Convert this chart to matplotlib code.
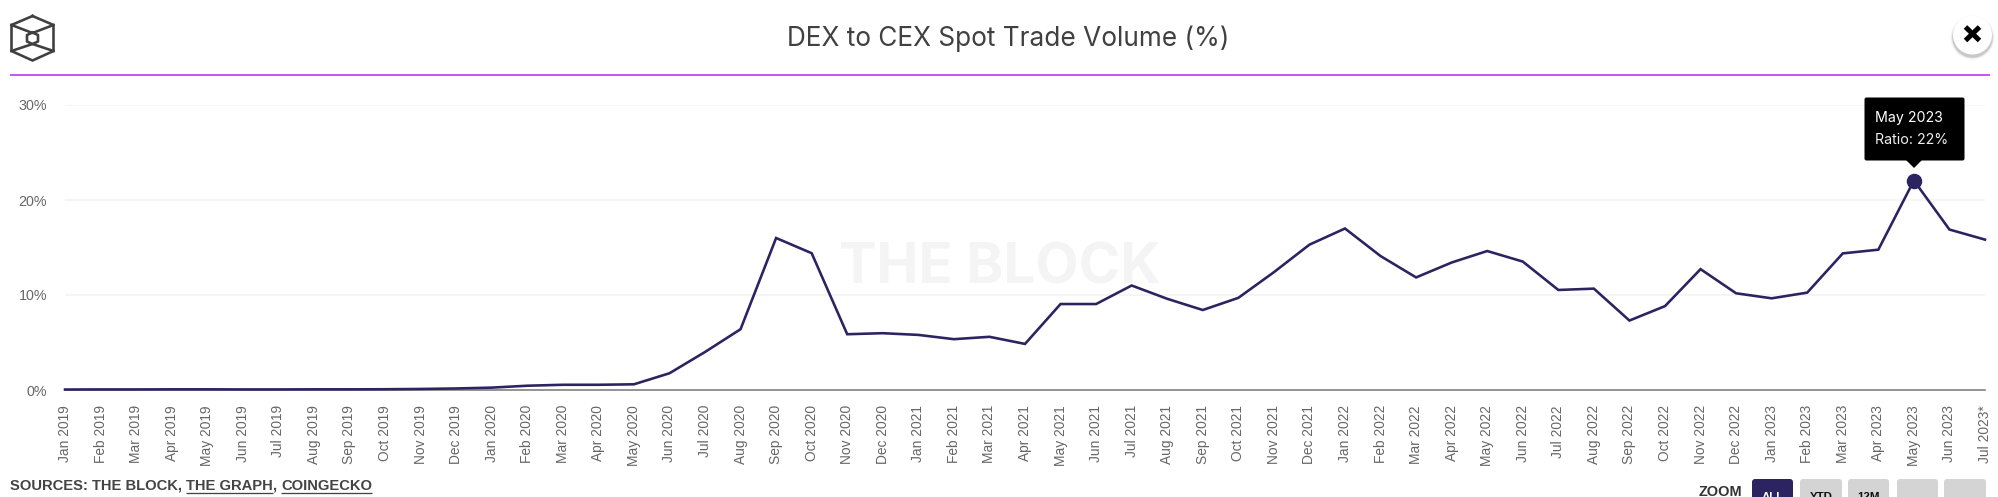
import matplotlib
matplotlib.use("Agg")
import matplotlib.pyplot as plt
from matplotlib.patches import Circle, Polygon, Rectangle, FancyBboxPatch

months = ["Jan", "Feb", "Mar", "Apr", "May", "Jun", "Jul", "Aug", "Sep", "Oct", "Nov", "Dec"]
years = [2019, 2020, 2021, 2022, 2023]
month_labels = [f"{m} {y}" for y in years for m in months][:55]
month_labels[-1] = "Jul 2023*"

ratio_2019 = [0.05, 0.06, 0.06, 0.07, 0.07, 0.06, 0.06, 0.07, 0.07, 0.08, 0.11, 0.16]
ratio_2020 = [0.25, 0.45, 0.55, 0.55, 0.6, 1.76, 4.0, 6.4, 16.0, 14.4, 5.87, 5.98]
ratio_2021 = [5.8, 5.35, 5.6, 4.85, 9.05, 9.05, 11.0, 9.6, 8.42, 9.7, 12.4, 15.3]
ratio_2022 = [17.0, 14.1, 11.85, 13.42, 14.63, 13.52, 10.53, 10.67, 7.31, 8.83, 12.72, 10.18]
ratio_2023 = [9.65, 10.25, 14.38, 14.77, 22.05, 16.89, 15.83]
ratio = ratio_2019 + ratio_2020 + ratio_2021 + ratio_2022 + ratio_2023

y_ticks = [0, 10, 20, 30]
highlight_index = 52
title_text = "DEX to CEX Spot Trade Volume (%)"
tooltip_lines = ["May 2023", "Ratio: 22%"]

W, H = 1999, 497
DPI = 100
NAVY = "#2c2361"
px = lambda p: p * 72 / DPI

fig = plt.figure(figsize=(W / DPI, H / DPI), dpi=DPI, facecolor="white")

# Pixel-based layer for the page furniture
bg = fig.add_axes([0, 0, 1, 1], zorder=0)
bg.set_xlim(0, W)
bg.set_ylim(H, 0)
bg.axis("off")

# Watermark
bg.text(1000, 268, "THE BLOCK", family="Inter", weight="bold", fontsize=40.5,
        color="#f4f4f4", ha="center", va="center")

# Chart
ax = fig.add_axes([65 / W, (H - 390) / H, 1920 / W, 285 / H], zorder=1)
ax.patch.set_alpha(0)
x = list(range(len(ratio)))
ax.plot(x, ratio, color=NAVY, lw=px(2.6), solid_joinstyle="miter", clip_on=False, zorder=4)
ax.plot(x[highlight_index], ratio[highlight_index], "o", color=NAVY, ms=px(15.5), mew=0,
        clip_on=False, zorder=5)
ax.set_xlim(0, len(ratio) - 1)
ax.set_ylim(0, 30)
ax.set_yticks(y_ticks)
ax.set_yticklabels([f"{v}%" for v in y_ticks], family="Liberation Sans", fontsize=px(14.2), color="#666666")
ax.set_xticks(x)
ax.set_xticklabels(month_labels, rotation=90, family="Liberation Sans", fontsize=px(13.8),
                   color="#666666", ha="center", va="top")
ax.tick_params(axis="x", length=0, pad=px(15))
ax.tick_params(axis="y", length=0, pad=px(18))
ax.grid(axis="y", color="#f2f2f2", lw=px(1.5))
ax.set_axisbelow(True)
for s in ("top", "left", "right"):
    ax.spines[s].set_visible(False)
ax.spines["bottom"].set_color("#7d7d7d")
ax.spines["bottom"].set_linewidth(px(1.6))

# Overlay for tooltip, header and footer
ov = fig.add_axes([0, 0, 1, 1], zorder=2)
ov.set_xlim(0, W)
ov.set_ylim(H, 0)
ov.axis("off")

ov.text(1008.5, 39, title_text, family="Inter", fontsize=px(26.2), color="#404040",
        ha="center", va="center")
ov.plot([10, 1990], [75, 75], color="#c03ae8", lw=px(1.7), solid_capstyle="butt")

# Logo
lc = "#404040"
lw_logo = px(2.6)
hexagon = [(32.5, 16), (53.5, 25), (53.5, 51), (32.5, 60.5), (11.5, 51), (11.5, 25), (32.5, 16)]
ov.plot(*zip(*hexagon), color=lc, lw=lw_logo, solid_joinstyle="miter")
ov.plot([11.5, 32.5, 53.5], [25, 33, 25], color=lc, lw=lw_logo)
ov.plot([11.5, 32.5, 53.5], [51, 44, 51], color=lc, lw=lw_logo)
inner = [(32.5, 32.5), (38, 35), (38, 41.5), (32.5, 44), (27, 41.5), (27, 35), (32.5, 32.5)]
ov.plot(*zip(*inner), color=lc, lw=lw_logo)

# Close button
for r, a in [(22, .04), (21, .05), (20.5, .06), (20, .08)]:
    ov.add_patch(Circle((1972.5, 37.5), r, fc="black", ec="none", alpha=a))
ov.add_patch(Circle((1972.5, 35), 19.5, fc="white", ec="none"))
ov.plot([1965.5, 1979.5], [27, 40.5], color="black", lw=px(5), solid_capstyle="butt")
ov.plot([1979.5, 1965.5], [27, 40.5], color="black", lw=px(5), solid_capstyle="butt")

# Tooltip
ov.add_patch(FancyBboxPatch((1865, 98), 99, 62, boxstyle="round,pad=0,rounding_size=1.5", fc="black", ec="black", lw=px(1)))
ov.add_patch(Polygon([(1906, 160), (1922, 160), (1914, 168)], fc="black", ec="none"))
ov.text(1875, 118, tooltip_lines[0], family="Inter", fontsize=px(14.2), color="white", va="center", ha="left")
ov.text(1875, 140, tooltip_lines[1], family="Inter", fontsize=px(14.2), color="#eeeeee", va="center", ha="left")

# Sources
fig.canvas.draw()
rend = fig.canvas.get_renderer()
cursor = 10
for part, underline in [("SOURCES: THE BLOCK, ", False), ("THE GRAPH", True), (", ", False), ("COINGECKO", True)]:
    t = ov.text(cursor, 486, part.replace(" ", "\u00a0"), family="Liberation Sans", weight="bold", fontsize=px(14.7),
                color="#444444", va="center", ha="left")
    ext = t.get_window_extent(rend)
    if underline:
        ov.plot([ext.x0, ext.x1], [492.5, 492.5], color="#444444", lw=px(1.3), solid_capstyle="butt")
    cursor = ext.x1

# Zoom controls, cut off by the bottom edge as in the screenshot
ov.text(1699, 492, "ZOOM", family="Liberation Sans", weight="bold", fontsize=px(14.5), color="#333333",
        va="center", ha="left", clip_on=False)
buttons = [(1752, 41, "ALL", NAVY, "white"), (1800, 42, "YTD", "#d4d4d4", "#111111"),
           (1848, 41, "12M", "#d4d4d4", "#111111"), (1897, 41, "", "#d4d4d4", "#111111"),
           (1944, 42, "", "#d4d4d4", "#111111")]
for bx, bw, lab, fc, tc in buttons:
    ov.add_patch(FancyBboxPatch((bx, 479), bw, 30, boxstyle="round,pad=0,rounding_size=3", fc=fc, ec="none"))
    if lab:
        ov.text(bx + bw / 2, 497, lab, family="Liberation Sans", weight="bold", fontsize=px(11.5), color=tc,
                ha="center", va="center")

fig.savefig("out.png", dpi=DPI, facecolor="white")
